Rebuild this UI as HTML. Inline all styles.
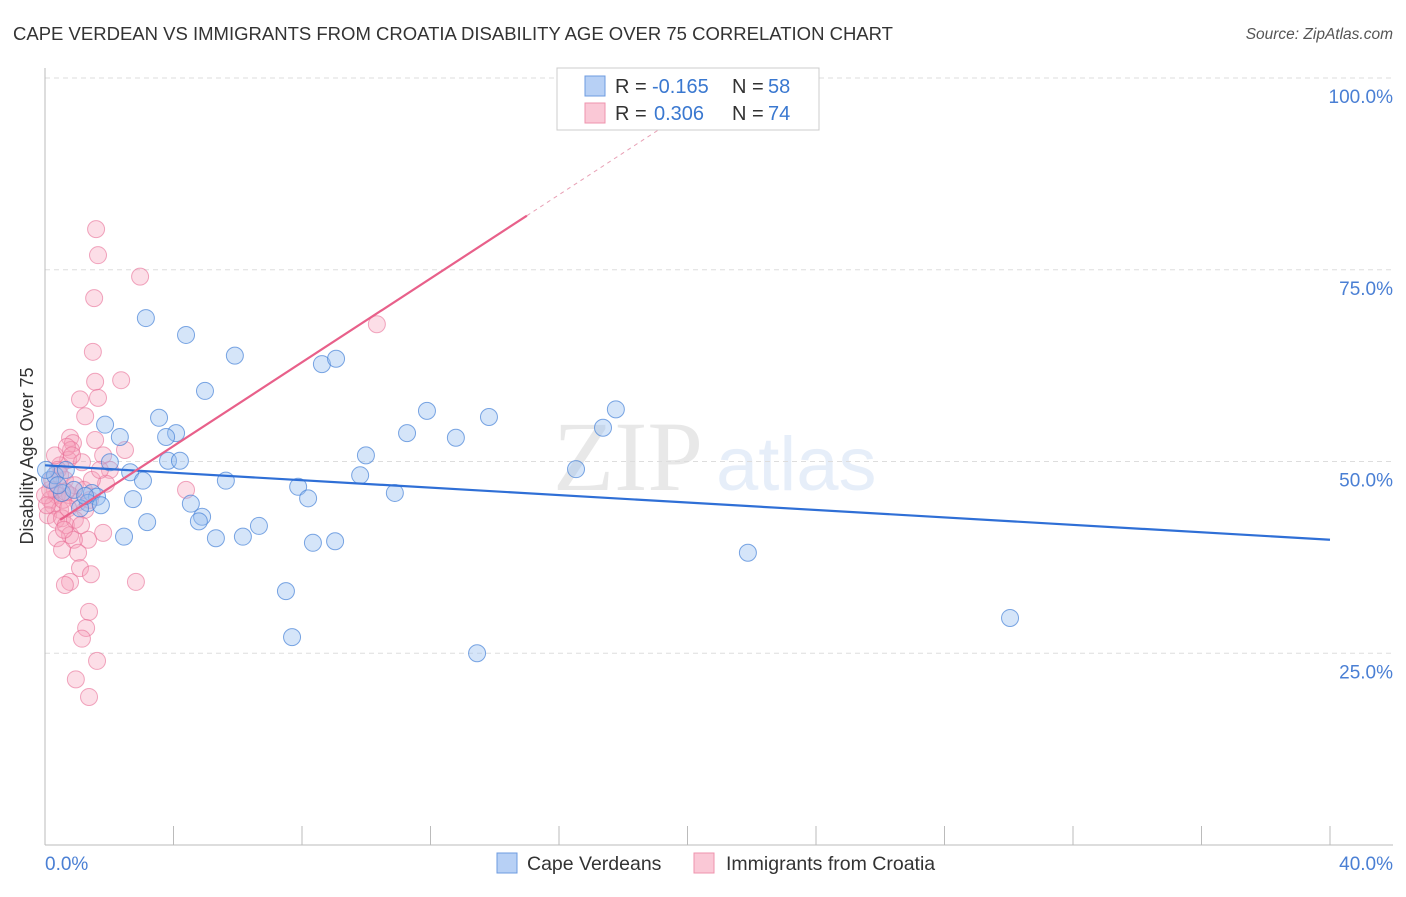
<!DOCTYPE html>
<html><head><meta charset="utf-8"><style>
body{margin:0;background:#fff;font-family:"Liberation Sans",sans-serif;}
</style></head><body>
<svg width="1406" height="892" xmlns="http://www.w3.org/2000/svg" font-family="Liberation Sans, sans-serif">
<text x="13" y="40" font-size="18" fill="#333" textLength="880" lengthAdjust="spacingAndGlyphs">CAPE VERDEAN VS IMMIGRANTS FROM CROATIA DISABILITY AGE OVER 75 CORRELATION CHART</text>
<text x="1393" y="39" font-size="15.5" fill="#555" font-style="italic" text-anchor="end">Source: ZipAtlas.com</text>
<g opacity="0.13">
<text x="553" y="490" font-size="100" font-family="Liberation Serif, serif" fill="#555">ZIP</text>
<text x="716" y="490" font-size="76" fill="#4a7fd4">atlas</text>
</g>
<g id="grid"></g>
<g id="axes"></g>
<g id="pts"></g>
<g id="lines"></g>
<text transform="translate(33,456) rotate(-90)" font-size="18" fill="#333" text-anchor="middle">Disability Age Over 75</text>
<g>
<rect x="557" y="68" width="262" height="62" fill="#fff" stroke="#ccc"/>
<rect x="585" y="76" width="20" height="20" fill="#b7d0f5" stroke="#6d9be0"/>
<rect x="585" y="103" width="20" height="20" fill="#fac8d6" stroke="#ef93ad"/>
<text x="615" y="93" font-size="20" fill="#333">R = <tspan x="652" fill="#3a78d0">-0.165</tspan></text>
<text x="732" y="93" font-size="20" fill="#333">N = <tspan x="768" fill="#3a78d0">58</tspan></text>
<text x="615" y="120" font-size="20" fill="#333">R = <tspan x="654" fill="#3a78d0">0.306</tspan></text>
<text x="732" y="120" font-size="20" fill="#333">N = <tspan x="768" fill="#3a78d0">74</tspan></text>
</g>
<g>
<rect x="497" y="853" width="20" height="20" fill="#b7d0f5" stroke="#6d9be0"/>
<text x="527" y="870" font-size="19.5" fill="#333">Cape Verdeans</text>
<rect x="694" y="853" width="20" height="20" fill="#fac8d6" stroke="#ef93ad"/>
<text x="726" y="870" font-size="19.5" fill="#333">Immigrants from Croatia</text>
</g>
</svg>
<script>
const blueX=[3.14,4.39,5.91,4.98,8.62,9.06,1.87,3.55,2.33,4.08,3.77,3.83,4.20,2.02,2.65,3.05,5.63,7.88,8.19,9.81,9.99,11.27,11.89,12.79,13.82,17.37,17.77,16.53,10.89,2.74,4.54,4.89,4.79,3.18,2.46,5.32,6.16,6.66,8.34,9.03,7.50,7.69,13.45,21.88,30.04,1.46,1.62,1.34,1.74,1.09,0.53,0.16,0.31,0.65,0.90,1.25,0.03,0.40];
const blueY=[68.7,66.5,63.8,59.2,62.7,63.4,54.8,55.7,53.2,53.7,53.2,50.1,50.1,49.9,48.6,47.5,47.5,46.7,45.2,48.2,50.8,53.7,56.6,53.1,55.8,54.4,56.8,49.0,45.9,45.1,44.5,42.8,42.2,42.1,40.2,40.0,40.2,41.6,39.4,39.6,33.1,27.1,25.0,38.1,29.6,45.9,45.4,44.6,44.3,43.9,45.9,47.6,48.2,48.9,46.3,45.5,48.9,46.9];
const pinkX=[1.59,1.65,2.96,1.53,10.33,1.49,1.56,2.37,1.09,1.65,1.25,0.78,0.87,0.81,1.56,2.49,0.72,1.15,1.81,2.02,1.90,4.39,0.47,0.62,0.93,0.31,0.37,0.16,0.25,0.47,0.09,0.34,0.53,1.25,0.78,1.03,1.40,0.65,0.78,1.81,0.37,1.34,0.90,0.53,1.03,1.09,1.43,2.83,0.78,0.62,1.37,1.28,1.15,1.62,0.96,1.37,0.16,0.22,0.40,0.56,0.72,0.00,0.06,0.31,0.68,0.84,0.47,0.65,1.21,1.46,1.71,0.93,0.59,1.12];
const pinkY=[80.3,76.9,74.1,71.3,67.9,64.3,60.4,60.6,58.1,58.3,55.9,53.1,52.4,51.5,52.8,51.5,50.2,49.9,50.8,48.9,47.1,46.3,49.5,47.6,46.9,46.3,45.6,45.0,44.3,43.7,43.0,42.4,42.6,43.7,45.6,44.7,45.0,41.7,40.4,40.7,40.0,39.8,39.8,38.5,38.1,36.1,35.3,34.3,34.3,33.9,30.4,28.3,26.9,24.0,21.6,19.3,46.3,47.6,48.9,45.0,43.9,45.6,44.3,50.8,51.9,50.8,48.2,46.0,46.3,47.6,48.9,42.4,41.1,41.7];
const yTicks=[25,50,75,100];
const yTickLabels=["25.0%","50.0%","75.0%","100.0%"];
const xTickValues=[0,4,8,12,16,20,24,28,32,36,40];
const xEndLabels=["0.0%","40.0%"];
const blueTrend=[49.5,39.8];
const pinkTrend=[41.1,2.73];

const NS="http://www.w3.org/2000/svg";
const X0=45,X1=1330,Y0=845,Y1=78;
const sx=v=>X0+(v/40)*(X1-X0);
const sy=v=>Y0-(v/100)*(Y0-Y1);
function mk(tag,attrs,parent){const e=document.createElementNS(NS,tag);for(const k in attrs)e.setAttribute(k,attrs[k]);document.getElementById(parent).appendChild(e);return e;}

yTicks.forEach((t,i)=>{
  const g=mk('line',{x1:X0,x2:1393,y1:sy(t),y2:sy(t),stroke:'#ddd','stroke-dasharray':'5,4'},'grid');
  
  
  const l=mk('text',{x:1393,y:sy(t)+25,'font-size':19,fill:'#4a7fd4','text-anchor':'end'},'grid');
  l.textContent=yTickLabels[i];
  
  
});
const ya=mk('line',{x1:X0,x2:X0,y1:68,y2:Y0,stroke:'#bbb'},'axes');


const xa=mk('line',{x1:X0,x2:1393,y1:Y0,y2:Y0,stroke:'#bbb'},'axes');


xTickValues.forEach(t=>{
  const tk=mk('line',{x1:sx(t),x2:sx(t),y1:826,y2:Y0,stroke:'#bbb'},'axes');
  
  
});
const xl0=mk('text',{x:X0,y:870,'font-size':19,fill:'#4a7fd4'},'axes');xl0.textContent=xEndLabels[0];


const xl1=mk('text',{x:1393,y:870,'font-size':19,fill:'#4a7fd4','text-anchor':'end'},'axes');xl1.textContent=xEndLabels[1];



pinkX.forEach((v,i)=>{
  const c=mk('circle',{cx:sx(v),cy:sy(pinkY[i]),r:8.5,fill:'rgba(246,160,185,0.35)',stroke:'rgba(232,110,150,0.6)','stroke-width':1},'pts');
  
  
});
blueX.forEach((v,i)=>{
  const c=mk('circle',{cx:sx(v),cy:sy(blueY[i]),r:8.5,fill:'rgba(150,190,240,0.4)',stroke:'rgba(70,130,215,0.7)','stroke-width':1},'pts');
  
  
});
const bl=mk('line',{x1:sx(0),y1:sy(blueTrend[0]),x2:sx(40),y2:sy(blueTrend[1]),stroke:'#2f6fd6','stroke-width':2.2},'lines');


const pf=x=>pinkTrend[0]+pinkTrend[1]*x;
const pl=mk('line',{x1:sx(0.47),y1:sy(pf(0.47)),x2:sx(15),y2:sy(pf(15)),stroke:'#e8608a','stroke-width':2.2},'lines');


const pd=mk('line',{x1:sx(15),y1:sy(pf(15)),x2:sx(20),y2:sy(pf(20)),stroke:'#e8a0b5','stroke-width':1,'stroke-dasharray':'4,4'},'lines');


</script>
</body></html>
